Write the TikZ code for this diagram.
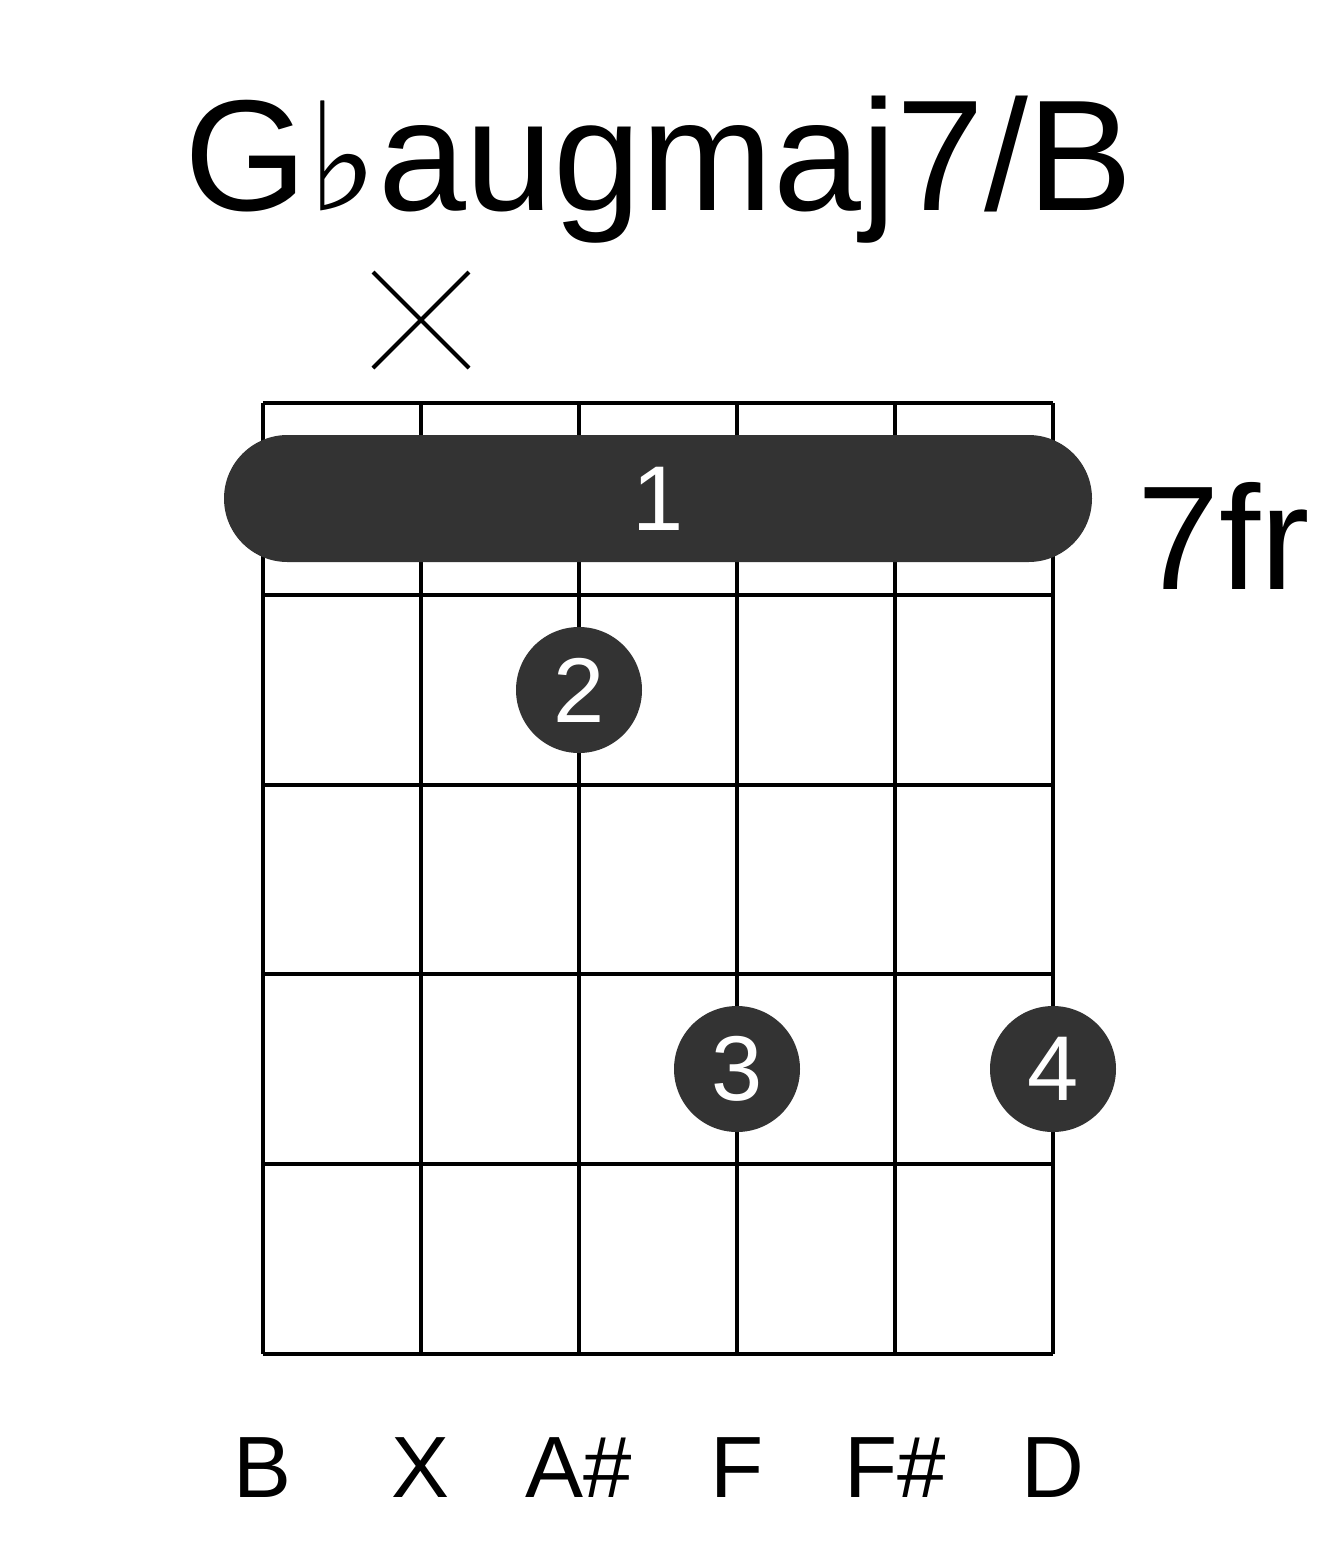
\documentclass[tikz,border=0pt]{standalone}
\usepackage{fontspec}
\setmainfont{Liberation Sans}
\newfontfamily\dejavu{DejaVu Sans}
\definecolor{dotfill}{HTML}{333333}
\tikzset{
  gridline/.style={line width=4.5pt, black},
  fingerdot/.style={circle, fill=dotfill, minimum size=126pt, inner sep=0pt, text=white, font=\fontsize{92}{92}\selectfont},
  barrebox/.style={rounded rectangle, fill=dotfill, minimum height=127pt, minimum width=868pt, inner sep=0pt, text=white, font=\fontsize{92}{92}\selectfont},
  stringlabel/.style={anchor=base, font=\fontsize{87}{87}\selectfont},
  mutemark/.style={line width=4pt, black}
}
\usetikzlibrary{shapes.misc}
\begin{document}
\begin{tikzpicture}[x=1pt,y=-1pt]
\useasboundingbox (0,0) rectangle (1317,1551);
% title
\node[anchor=base, inner sep=0pt, font=\fontsize{158}{160}\selectfont] (title) at (659,210) {G{\dejavu\fontsize{150}{150}\selectfont ♭}augmaj7/B};
% grid
\foreach \x in {263,421,579,737,895,1053} \draw[gridline] (\x,403) -- (\x,1354);
\foreach \y in {403,595,785,974,1164,1354} \draw[gridline] (263,403) -- (1053,403) (263,\y) -- (1053,\y);
% mute
\coordinate (m1) at (373,272); \coordinate (m2) at (469,368);
\coordinate (m3) at (469,272); \coordinate (m4) at (373,368);
\draw[mutemark] (m1) -- (m2) (m3) -- (m4);
% barre
\node[barrebox] (barre) at (658,498.5) {1};
\node[anchor=base west, inner sep=0pt, font=\fontsize{148}{148}\selectfont] (fret) at (1137,589) {7fr};
% dots
\node[fingerdot] (d2) at (579,690) {2};
\node[fingerdot] (d3) at (737,1069) {3};
\node[fingerdot] (d4) at (1053,1069) {4};
% string labels
\node[stringlabel] (s1) at (263,1497) {B};
\node[stringlabel] (s2) at (421,1497) {X};
\node[stringlabel] (s3) at (579,1497) {A\#};
\node[stringlabel] (s4) at (737,1497) {F};
\node[stringlabel] (s5) at (895,1497) {F\#};
\node[stringlabel] (s6) at (1053,1497) {D};
\end{tikzpicture}
\end{document}
